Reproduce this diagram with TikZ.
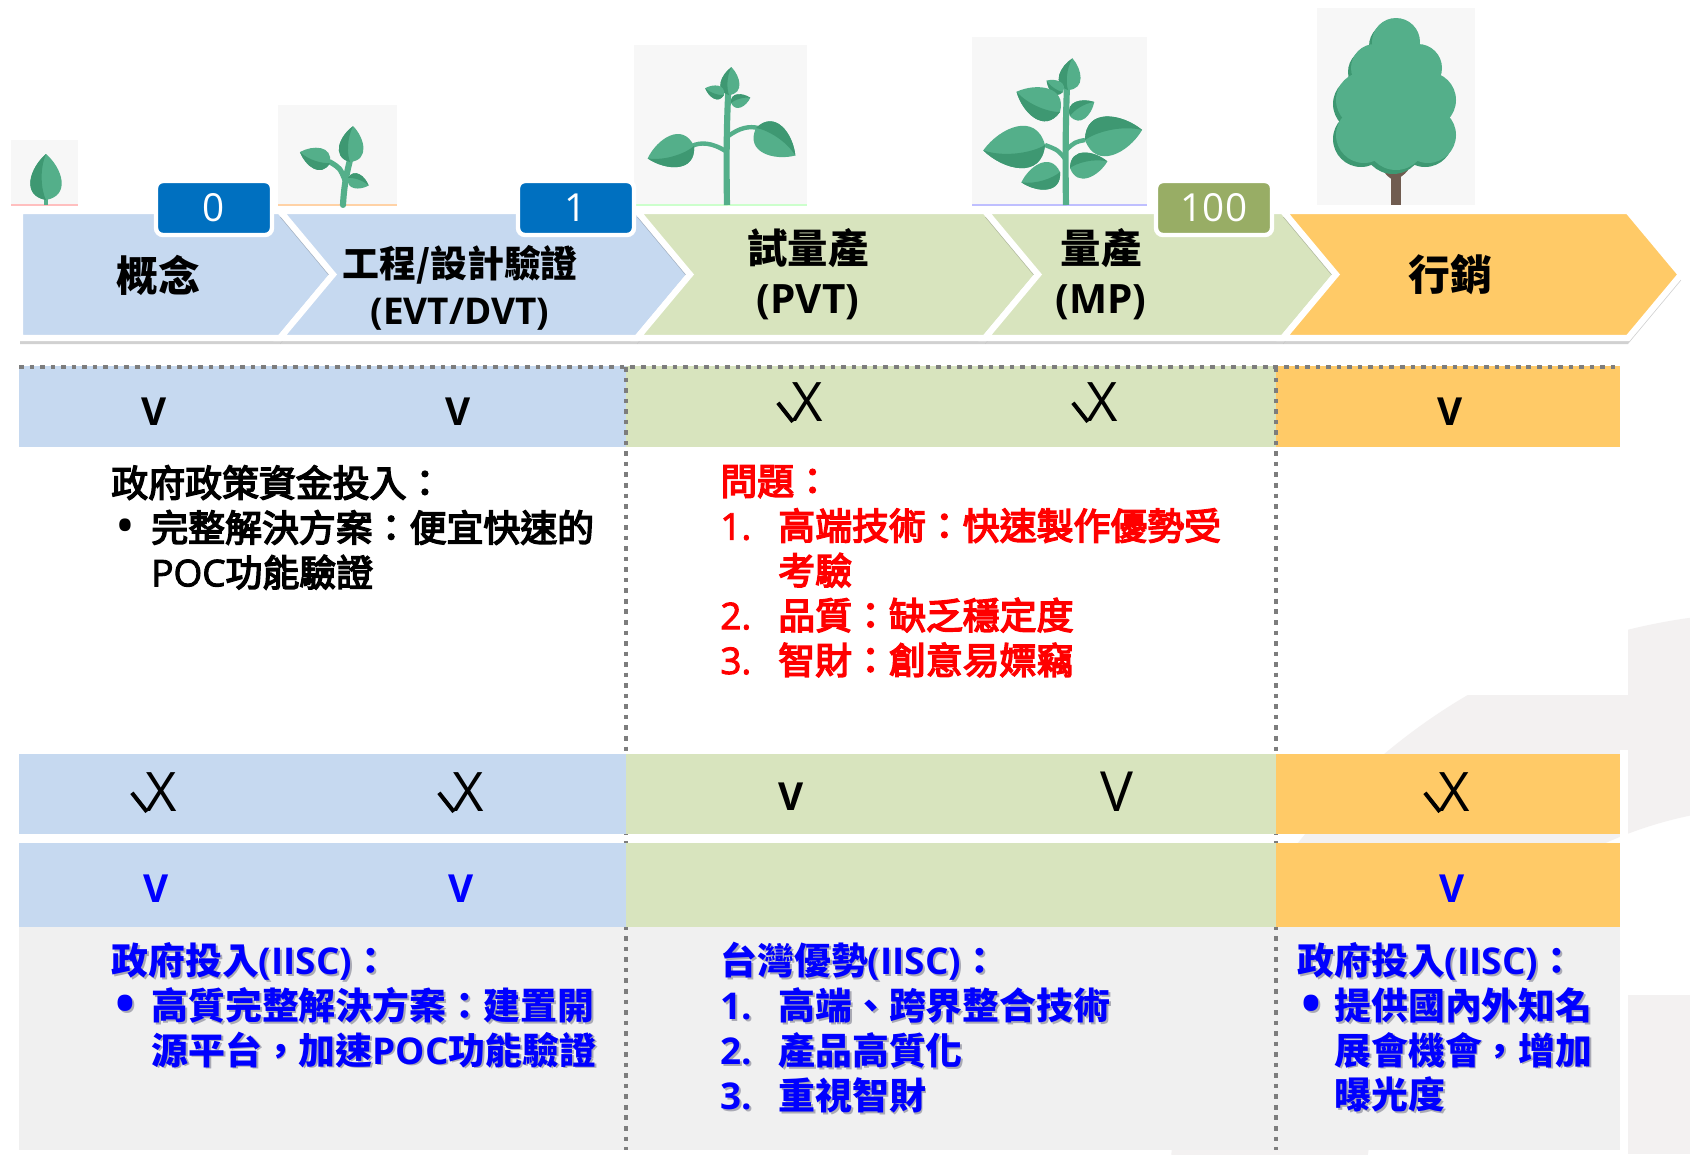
\documentclass[tikz,border=0pt]{standalone}
\usepackage{fontspec}
\newfontfamily\cjk{Noto Sans CJK TC}
\newfontfamily\cjkreg[FakeBold=4]{Noto Sans CJK TC}
\newfontfamily\lat{Open Sans}
\newfontfamily\latreg[FakeBold=2.5]{Open Sans}

\definecolor{phaseblue}{RGB}{198,217,240}
\definecolor{phasegreen}{RGB}{216,228,190}
\definecolor{phaseorange}{RGB}{255,202,103}
\definecolor{tagblue}{RGB}{0,112,192}
\definecolor{tagolive}{RGB}{152,173,101}
\definecolor{leafgreen}{RGB}{84,175,138}
\definecolor{leafdark}{RGB}{62,152,114}
\definecolor{trunkbrown}{RGB}{112,92,80}
\definecolor{panelgray}{RGB}{240,240,240}
\definecolor{arcgray}{RGB}{243,241,241}
\definecolor{dotgray}{RGB}{125,125,125}
\definecolor{iiscblue}{RGB}{0,0,255}
\definecolor{alertred}{RGB}{255,0,0}
\definecolor{textshadow}{RGB}{170,170,180}
\definecolor{photobg}{RGB}{247,247,247}

\newcommand\en[1]{{\lat #1}}
\newcommand\enr[1]{{\latreg #1}}
\newcommand\dotmark{\raisebox{-0.08em}{\lat\fontsize{30}{30}\selectfont •}}
\newcommand\txtshadow[1]{\leavevmode\rlap{\kern1.1pt\raisebox{-1.1pt}{\textcolor{textshadow}{#1}}}#1}
% short tick hooked onto the foot of an X node
\newcommand\halftick[1]{\draw[line width=2.3pt] ([shift={(-13,-19)}]#1.south west) -- ([shift={(2,0)}]#1.south west);}

% one leaf, base at the origin, tip pointing up
\tikzset{
  leaf/.pic={
    \fill[leafgreen] (0,0) .. controls (-22,-4) and (-14,-28) .. (0,-40)
                          .. controls (14,-28) and (22,-4) .. (0,0) -- cycle;
    \fill[leafdark] (0,0) .. controls (-22,-4) and (-14,-28) .. (0,-40)
                         .. controls (-6,-26) and (-4,-8) .. (0,0) -- cycle;
  }
}

\begin{document}
\begin{tikzpicture}[x=0.02cm, y=-0.02cm,
    phaselabel/.style={font=\cjk\bfseries\fontsize{21}{27}\selectfont, align=center, inner sep=0pt},
    tagbox/.style={draw=white, line width=2.5pt, rounded corners=4pt, minimum width=2.32cm,
      minimum height=1.08cm, text=white, font=\lat\fontsize{22}{22}\selectfont, inner sep=0pt},
    yesmark/.style={font=\lat\bfseries\fontsize{22}{22}\selectfont, inner sep=0pt},
    bigyes/.style={font=\lat\fontsize{31.5}{31.5}\selectfont, inner sep=0pt},
    halfmark/.style={font=\lat\fontsize{31}{31}\selectfont, inner sep=0pt},
    gridline/.style={dotgray, line width=2.4pt, dash pattern=on 2.6pt off 3.4pt},
    notetext/.style={font=\cjkreg\fontsize{21}{25.5}\selectfont, align=left, anchor=north west, inner sep=0pt},
    iisctext/.style={font=\cjk\bfseries\fontsize{21}{25.5}\selectfont, text=iiscblue, align=left,
      anchor=north west, inner sep=0pt}]
  \useasboundingbox (0,0) rectangle (1690,1154);
  \fill[white] (0,0) rectangle (1690,1154);

  % backdrop arc and corner block
  \begin{scope}
    \clip (0,0) rectangle (1690,1154);
    \fill[arcgray, even odd rule] (1774,1218) circle[radius=606] (1774,1218) circle[radius=411];
  \end{scope}
  \fill[arcgray] (1628,995) rectangle (1690,1154);
  \fill[white] (19,447) rectangle (1628,695);
  \fill[white] (1620,750) rectangle (1628,1154);

  % seed
  \fill[photobg] (11,140) rectangle (78,205);
  \draw[red!25, line width=1pt] (11,205) -- (78,205);
  \draw[leafgreen, line width=2pt] (46,205) -- (46,196);
  \pic[scale=1.15] at (46,200) {leaf};

  % sprout
  \fill[photobg] (278,105) rectangle (397,205);
  \draw[orange!35, line width=1pt] (278,205) -- (397,205);
  \draw[leafgreen, line width=3.5pt, line cap=round] (343,205) .. controls (344,185) and (347,172) .. (350,160);
  \draw[leafgreen, line width=3pt, line cap=round] (345,180) .. controls (340,168) .. (330,162);
  \pic[scale=.9, rotate=-5] at (350,162) {leaf};
  \pic[scale=.8, rotate=70] at (330,163) {leaf};
  \pic[scale=.55, rotate=-110] at (348,178) {leaf};

  % young plant
  \fill[photobg] (634,45) rectangle (807,205);
  \draw[green!20, line width=1pt] (634,205) -- (807,205);
  \draw[leafgreen, line width=3.5pt] (727,205) .. controls (726,150) and (727,110) .. (729,80);
  \draw[leafgreen, line width=2.5pt] (727,152) .. controls (712,142) and (700,142) .. (692,146);
  \draw[leafgreen, line width=2.5pt] (727,137) .. controls (740,127) and (750,126) .. (758,128);
  \pic[scale=1.2, rotate=105] at (694,146) {leaf};
  \pic[scale=1.2, rotate=-125] at (756,128) {leaf};
  \pic[scale=.7, rotate=-5] at (729,95) {leaf};
  \pic[scale=.5, rotate=70] at (724,95) {leaf};
  \pic[scale=.5, rotate=-75] at (731,103) {leaf};

  % grown plant
  \fill[photobg] (972,37) rectangle (1147,205);
  \draw[blue!25, line width=1pt] (972,205) -- (1147,205);
  \draw[leafgreen, line width=3.5pt] (1066,205) .. controls (1065,150) and (1066,100) .. (1068,65);
  \draw[leafgreen, line width=2.5pt] (1066,160) .. controls (1058,150) .. (1045,145);
  \draw[leafgreen, line width=2.5pt] (1066,150) .. controls (1075,142) .. (1085,140);
  \pic[scale=.8, rotate=-8] at (1068,90) {leaf};
  \pic[scale=.5, rotate=55] at (1063,92) {leaf};
  \pic[scale=1.2, rotate=65] at (1060,112) {leaf};
  \pic[scale=1.55, rotate=95] at (1045,145) {leaf};
  \pic[scale=1.0, rotate=105] at (1060,172) {leaf};
  \pic[scale=.7, rotate=-60] at (1070,116) {leaf};
  \pic[scale=1.45, rotate=-80] at (1085,140) {leaf};
  \pic[scale=.95, rotate=-80] at (1070,168) {leaf};

  % tree
  \fill[photobg] (1317,8) rectangle (1475,205);
  \fill[trunkbrown] (1391,150) rectangle (1401,205);
  \draw[trunkbrown, line width=2pt] (1393,178) .. controls (1385,172) .. (1383,160);
  \draw[trunkbrown, line width=2pt] (1399,176) .. controls (1407,170) .. (1409,160);
  \foreach \cx/\cy/\rad in {1396/42/24, 1375/68/24, 1418/68/24, 1364/100/28, 1428/100/28,
      1396/90/32, 1364/135/28, 1428/135/28, 1396/140/30, 1396/115/35}
    \fill[leafdark] (\cx-3,\cy+4) circle[radius=\rad];
  \foreach \cx/\cy/\rad in {1396/42/24, 1375/68/24, 1418/68/24, 1364/100/28, 1428/100/28,
      1396/90/32, 1364/135/28, 1428/135/28, 1396/140/30, 1396/115/35}
    \fill[leafgreen] (\cx,\cy) circle[radius=\rad];

  % chevrons
  \foreach \lft/\rgt/\col/\dep in {20/280/phaseblue/0, 280/637/phaseblue/53, 637/985/phasegreen/53,
      985/1283/phasegreen/53, 1283/1628/phaseorange/53} {
    \fill[black, opacity=.18] (\lft,217) -- (\rgt,217) -- (\rgt+53,280.5) -- (\rgt,344) -- (\lft,344)
      -- (\lft+\dep,280.5) -- cycle;
    \filldraw[fill=\col, draw=white, line width=3.5pt] (\lft,211) -- (\rgt,211) -- (\rgt+53,274.5)
      -- (\rgt,338) -- (\lft,338) -- (\lft+\dep,274.5) -- cycle;
  }

  % milestones
  \node[tagbox, fill=tagblue] (tag0) at (214,208) {0};
  \node[tagbox, fill=tagblue] (tag1) at (576,208) {1};
  \node[tagbox, fill=tagolive] (tag100) at (1214,208) {100};

  % phase names
  \node[phaselabel, font=\cjk\bfseries\fontsize{23.8}{27}\selectfont] (concept) at (158,275) {概念};
  \node[phaselabel] (evt) at (460,288) {工程/設計驗證\\\en{(EVT/DVT)}};
  \node[phaselabel, font=\cjk\bfseries\fontsize{23}{28.5}\selectfont] (pvt) at (808,274) {試量產\\\en{(PVT)}};
  \node[phaselabel, font=\cjk\bfseries\fontsize{23}{28.5}\selectfont] (mp) at (1101,274) {量產\\\en{(MP)}};
  \node[phaselabel, font=\cjk\bfseries\fontsize{23.8}{27}\selectfont] (market) at (1450,275) {行銷};

  % first check row
  \fill[phaseblue] (19,366) rectangle (626,447);
  \fill[phasegreen] (626,366) rectangle (1276,447);
  \fill[phaseorange] (1276,366) rectangle (1620,447);
  \fill[panelgray] (19,927) rectangle (1620,1150);

  % dotted grid
  \draw[gridline] (19,367) -- (1620,367);
  \draw[gridline] (626,367) -- (626,1150);
  \draw[gridline] (1276,367) -- (1276,1150);

  % second and third check rows
  \fill[phaseblue] (19,754) rectangle (626,834);
  \fill[phasegreen] (626,754) rectangle (1276,834);
  \fill[phaseorange] (1276,754) rectangle (1620,834);
  \fill[phaseblue] (19,843) rectangle (626,927);
  \fill[phasegreen] (626,843) rectangle (1276,927);
  \fill[phaseorange] (1276,843) rectangle (1620,927);

  \node[yesmark] (a1) at (154,412) {V};
  \node[yesmark] (a2) at (458,412) {V};
  \node[halfmark] (a3) at (807,402) {X};
  \node[halfmark] (a4) at (1102,402) {X};
  \node[yesmark] (a5) at (1450,412) {V};
  \halftick{a3}
  \halftick{a4}

  \node[halfmark] (b1) at (161,792) {X};
  \node[halfmark] (b2) at (468,792) {X};
  \node[yesmark] (b3) at (791,797) {V};
  \node[bigyes] (b4) at (1117,792) {V};
  \node[halfmark] (b5) at (1454,792) {X};
  \halftick{b1}
  \halftick{b2}
  \halftick{b5}

  \node[yesmark, text=iiscblue] (c1) at (156,889) {V};
  \node[yesmark, text=iiscblue] (c2) at (461,889) {V};
  \node[yesmark, text=iiscblue] (c5) at (1452,889) {V};

  % notes under the first row
  \node[notetext] (policy) at (111,465) {政府政策資金投入：\\
    \hspace*{0.08cm}\makebox[0.72cm][l]{\dotmark}完整解決方案：便宜快速的\\
    \hspace*{0.8cm}\enr{POC}功能驗證};
  \node[notetext, text=alertred] (issues) at (720,465) {問題：\\
    \makebox[1.16cm][l]{\enr{1.}}高端技術：快速製作優勢受\\
    \hspace*{1.16cm}考驗\\
    \makebox[1.16cm][l]{\enr{2.}}品質：缺乏穩定度\\
    \makebox[1.16cm][l]{\enr{3.}}智財：創意易嫖竊};

  % IISC notes
  \node[iisctext] (iisc1) at (111,942) {\txtshadow{政府投入\en{(IISC)}：}\\
    \hspace*{0.08cm}\makebox[0.72cm][l]{\txtshadow{\dotmark}}\txtshadow{高質完整解決方案：建置開}\\
    \hspace*{0.8cm}\txtshadow{源平台，加速\en{POC}功能驗證}};
  \node[iisctext] (iisc2) at (720,942) {\txtshadow{台灣優勢\en{(IISC)}：}\\
    \makebox[1.16cm][l]{\txtshadow{\en{1.}}}\txtshadow{高端、跨界整合技術}\\
    \makebox[1.16cm][l]{\txtshadow{\en{2.}}}\txtshadow{產品高質化}\\
    \makebox[1.16cm][l]{\txtshadow{\en{3.}}}\txtshadow{重視智財}};
  \node[iisctext] (iisc3) at (1297,942) {\txtshadow{政府投入\en{(IISC)}：}\\
    \hspace*{0.08cm}\makebox[0.66cm][l]{\txtshadow{\dotmark}}\txtshadow{提供國內外知名}\\
    \hspace*{0.74cm}\txtshadow{展會機會，增加}\\
    \hspace*{0.74cm}\txtshadow{曝光度}};
\end{tikzpicture}
\end{document}
